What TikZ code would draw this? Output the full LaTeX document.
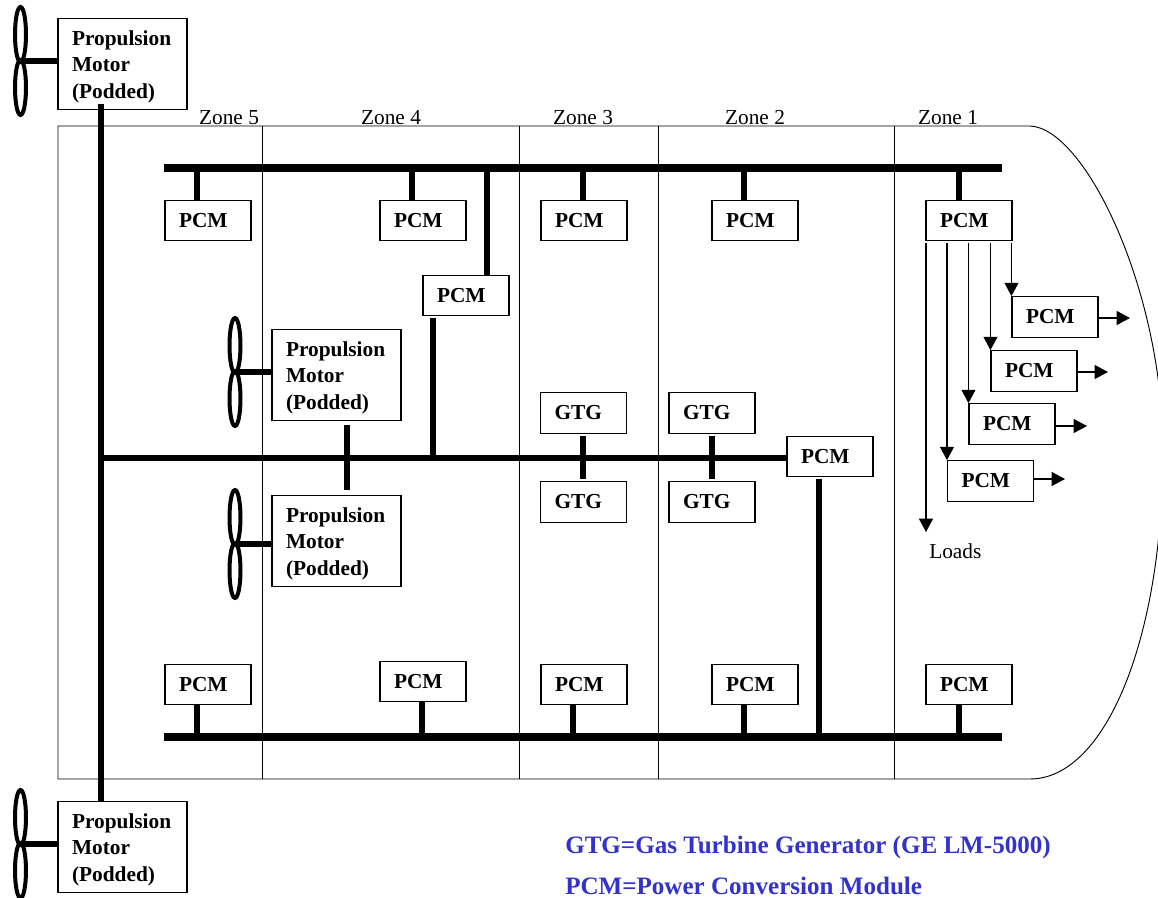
\documentclass[tikz,border=0pt]{standalone}
\usepackage{fontspec}
\setmainfont{Liberation Serif}
\usetikzlibrary{arrows.meta}
\definecolor{noteblue}{RGB}{51,51,204}
\newcommand{\motortext}{\rule{0pt}{15pt}Propulsion\\Motor\\(Podded)}
\tikzset{
  thinline/.style={line width=0.7pt},
  boxline/.style={line width=0.8pt},
  busbar/.style={line width=6.4pt},
  feeder/.style={line width=4.6pt},
  blade/.style={line width=3pt},
  loadarrow/.style={line width=0.8pt, -{Triangle[length=10pt, width=10.5pt]}},
  pcmbox/.style={draw, boxline, align=left, text width=43.5pt, inner xsep=10.5pt, inner ysep=0pt,
    minimum height=30.5pt, font=\bfseries\fontsize{16}{19.9}\selectfont},
  motorbox/.style={draw, boxline, align=left, text width=75.75pt, inner xsep=10.5pt, inner ysep=0pt,
    minimum height=68.25pt, font=\bfseries\fontsize{16}{19.9}\selectfont},
  zonelabel/.style={anchor=base, inner sep=0pt, font=\fontsize{16}{19.9}\selectfont},
  notelabel/.style={anchor=base west, inner sep=0pt, text=noteblue, font=\bfseries\fontsize{18.8}{22}\selectfont}
}
\begin{document}
\begin{tikzpicture}[x=0.75pt, y=-0.75pt]
  \useasboundingbox (0,0) rectangle (1158,898);

  % Hull outline
  \draw[thinline] (1030,126) -- (58,126) -- (58,779) -- (1030,779)
    .. controls (1105,779) and (1163,640) .. (1163,450)
    .. controls (1163,290) and (1085,128) .. (1030,126);

  % Zone dividers and labels
  \foreach \x in {262, 519, 658, 894}
    \draw[thinline] (\x,126) -- (\x,779);
  \foreach \n/\x in {5/229, 4/391, 3/583, 2/755, 1/948}
    \node[zonelabel] (zone\n) at (\x,125) {Zone \n};

  % Motors with their fans
  \node[motorbox] (motorA) at (122.5,64) {\motortext};
  \node[motorbox] (motorB) at (336.5,375) {\motortext};
  \node[motorbox] (motorC) at (336.5,541) {\motortext};
  \node[motorbox] (motorD) at (122.5,847) {\motortext};
  \foreach \n/\x/\y in {A/20.5/61, B/235/372, C/235/544, D/20.5/844} {
    \coordinate (hub\n) at (\x,\y);
    \draw[blade] (\x,\y-26.5) ellipse (5.5 and 27.5);
    \draw[blade] (\x,\y+26.5) ellipse (5.5 and 27.5);
    \draw[feeder] (hub\n) -- (hub\n -| motor\n.west);
  }

  % PCM boxes along the two long buses
  \foreach \n/\x in {A/208, B/423, C/584, D/755, E/969}
    \node[pcmbox] (pcmTop\n) at (\x,220.5) {PCM};
  \foreach \n/\x/\y in {A/208/684.5, B/423/681.5, C/584/684.5, D/755/684.5, E/969/684.5}
    \node[pcmbox] (pcmBot\n) at (\x,\y) {PCM};

  % Top and bottom buses
  \coordinate (busTopL) at (164,168);
  \coordinate (busTopR) at (1002,168);
  \coordinate (busBotL) at (164,737);
  \coordinate (busBotR) at (1002,737);
  \draw[busbar] (busTopL) -- (busTopR);
  \draw[busbar] (busBotL) -- (busBotR);
  \foreach \n/\x in {A/197, B/412, C/583, D/744, E/959} {
    \coordinate (tapTop\n) at (\x,168);
    \draw[feeder] (tapTop\n) -- (tapTop\n |- pcmTop\n.north);
  }
  \foreach \n/\x in {A/197, B/422, C/573, D/744, E/959} {
    \coordinate (tapBot\n) at (\x,737);
    \draw[feeder] (tapBot\n) -- (tapBot\n |- pcmBot\n.south);
  }

  % Cross-ship PCMs
  \node[pcmbox] (pcmUpper) at (466,295.5) {PCM};
  \node[pcmbox] (pcmMid) at (830,456.5) {PCM};

  % GTG pairs
  \node[pcmbox] (gtgA) at (583.5,413) {GTG};
  \node[pcmbox] (gtgB) at (583.5,502) {GTG};
  \node[pcmbox] (gtgC) at (712,413) {GTG};
  \node[pcmbox] (gtgD) at (712,502) {GTG};

  % Main line and middle bus
  \coordinate (mainTop) at (101,104);
  \coordinate (midBus) at (101,458);
  \draw[feeder] (mainTop) -- (mainTop |- motorD.north);
  \draw[feeder] (midBus) -- (midBus -| pcmMid.west);

  % Stubs off the middle bus
  \coordinate (tapUpper) at (487,168);
  \coordinate (stubUpper) at (433,318);
  \coordinate (stubMotor) at (347,425);
  \coordinate (stubMotorEnd) at (347,490);
  \coordinate (stubGtgA) at (583,436);
  \coordinate (stubGtgAEnd) at (583,479);
  \coordinate (stubGtgC) at (712,436);
  \coordinate (stubGtgCEnd) at (712,479);
  \coordinate (stubMid) at (819,479);
  \draw[feeder] (tapUpper) -- (tapUpper |- pcmUpper.north);
  \draw[feeder] (stubUpper) -- (stubUpper |- midBus);
  \draw[feeder] (stubMotor) -- (stubMotorEnd);
  \draw[feeder] (stubGtgA) -- (stubGtgAEnd);
  \draw[feeder] (stubGtgC) -- (stubGtgCEnd);
  \draw[feeder] (stubMid) -- (stubMid |- busBotL);

  % Zone 1 loads
  \node[pcmbox] (loadA) at (1055,317) {PCM};
  \node[pcmbox] (loadB) at (1034,371) {PCM};
  \node[pcmbox] (loadC) at (1012,424) {PCM};
  \node[pcmbox] (loadD) at (990.5,481) {PCM};
  \coordinate (loadTap) at (0,243);
  \coordinate (loadEnd) at (926,532);
  \foreach \n in {A, B, C, D}
    \draw[loadarrow] (loadTap -| load\n.north west) -- (load\n.north west);
  \draw[loadarrow] (loadTap -| loadEnd) -- (loadEnd);
  \coordinate (outA) at (1130,318);
  \coordinate (outB) at (1108,372);
  \coordinate (outC) at (1087,426);
  \coordinate (outD) at (1065,479);
  \foreach \n in {A, B, C, D}
    \draw[loadarrow] (out\n -| load\n.east) -- (out\n);
  \node[zonelabel, anchor=base west] (loads) at (929,559) {Loads};

  % Legend
  \node[notelabel] (noteGtg) at (565,853) {GTG=Gas Turbine Generator (GE LM-5000)};
  \node[notelabel] (notePcm) at (565,894) {PCM=Power Conversion Module};
\end{tikzpicture}
\end{document}
